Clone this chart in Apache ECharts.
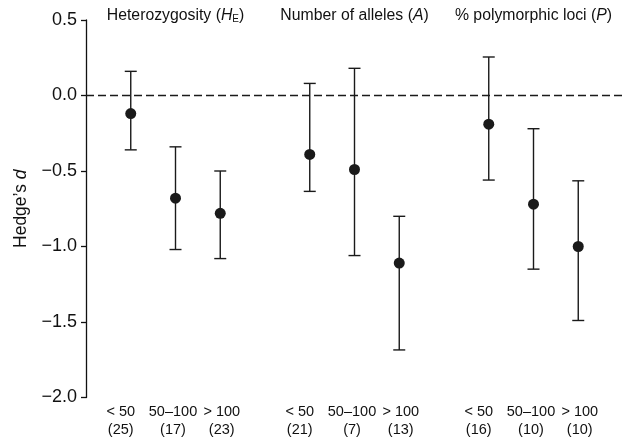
<!DOCTYPE html>
<html>
<head>
<meta charset="utf-8">
<script src="https://cdn.jsdelivr.net/npm/echarts@6/dist/echarts.min.js"></script>
<style>html,body{margin:0;padding:0;background:#fff}#c{width:626px;height:442px}</style>
</head>
<body>
<div id="c"></div>
<script>
// ---- data ----
const groupTitles = ['Heterozygosity', 'Number of alleles', '% polymorphic loci'];
const groupSymbols = ['H', 'A', 'P'];
const groupSubs = ['E', '', ''];
const classLabels = ['< 50', '50–100', '> 100'];
const sampleSizes = [[25, 17, 23], [21, 7, 13], [16, 10, 10]];
const meanD = [[-0.12, -0.68, -0.78], [-0.39, -0.49, -1.11], [-0.19, -0.72, -1.0]];
const upperCI = [[0.16, -0.34, -0.50], [0.08, 0.18, -0.80], [0.255, -0.22, -0.565]];
const lowerCI = [[-0.36, -1.02, -1.08], [-0.635, -1.06, -1.685], [-0.56, -1.15, -1.49]];
const yTicks = [0.5, 0.0, -0.5, -1.0, -1.5, -2.0];

const FONT = '"Liberation Sans", Arial, Helvetica, sans-serif';
const labelStyles = ['c0', 'c1', 'c2'];

// build series data: slot positions 1..11, with an empty slot between groups
const points = [], bars = [], xLabelMap = {}, titleMap = {};
groupTitles.forEach((g, gi) => {
  classLabels.forEach((c, ci) => {
    const x = gi * 4 + ci + 1;
    points.push([x, meanD[gi][ci]]);
    bars.push([x, lowerCI[gi][ci], upperCI[gi][ci]]);
    const st = labelStyles[ci];
    xLabelMap[x] = '{' + st + '|' + c + '}\n{' + st + '|(' + sampleSizes[gi][ci] + ')}';
  });
  const mid = gi * 4 + 2;
  titleMap[mid] = '{n|' + g + ' (}{i|' + groupSymbols[gi] + '}' +
    (groupSubs[gi] ? '{s|' + groupSubs[gi] + '}' : '') + '{n|)}';
});

const lab = {fontFamily: FONT, fontSize: 14.5, color: '#111', lineHeight: 18};
const chart = echarts.init(document.getElementById('c'), null, {renderer: 'canvas'});
chart.setOption({
  animation: false,
  backgroundColor: '#fff',
  grid: {left: 86, right: 0, top: 20, bottom: 44.5, containLabel: false},
  xAxis: [{
    type: 'value', min: 0, max: 12, interval: 1, position: 'bottom',
    axisLine: {show: false}, axisTick: {show: false}, splitLine: {show: false},
    axisLabel: {
      margin: 5, color: '#111', fontFamily: FONT, fontSize: 14.5, lineHeight: 18,
      formatter: v => xLabelMap[v] || '',
      rich: {
        c0: Object.assign({}, lab, {padding: [0, 20, 0, 0]}),
        c1: Object.assign({}, lab, {padding: [0, 5, 0, 0]}),
        c2: Object.assign({}, lab, {padding: [0, 0, 0, 3]})
      }
    }
  }, {
    type: 'value', min: 0, max: 12, interval: 1, position: 'top',
    axisLine: {show: false}, axisTick: {show: false}, splitLine: {show: false},
    axisLabel: {
      margin: -4, color: '#111', fontFamily: FONT, fontSize: 15.8,
      formatter: v => titleMap[v] || '',
      rich: {
        n: {fontFamily: FONT, fontSize: 15.8, color: '#111'},
        i: {fontFamily: FONT, fontSize: 15.8, fontStyle: 'italic', color: '#111'},
        s: {fontFamily: FONT, fontSize: 10, color: '#111', padding: [7, 0, 0, 0]}
      }
    }
  }],
  yAxis: {
    type: 'value', min: -2, max: 0.5, interval: 0.5,
    axisLine: {show: true, lineStyle: {color: '#111', width: 1.3}},
    axisTick: {show: true, length: 5, lineStyle: {color: '#111', width: 1.3}},
    splitLine: {show: false},
    axisLabel: {
      margin: 9, color: '#111', fontFamily: FONT, fontSize: 18,
      formatter: v => yTicks.indexOf(v) >= 0 ? v.toFixed(1).replace('-', '\u2212') : ''
    },
    name: '{n|Hedge\u2019s }{i|d}',
    nameLocation: 'middle', nameGap: 55, nameRotate: 90,
    nameTextStyle: {
      fontFamily: FONT, fontSize: 17.5, color: '#111',
      rich: {
        n: {fontFamily: FONT, fontSize: 17.5, color: '#111'},
        i: {fontFamily: FONT, fontSize: 17.5, fontStyle: 'italic', color: '#111'}
      }
    }
  },
  series: [{
    type: 'custom',
    data: bars,
    renderItem: (params, api) => {
      const x = api.value(0);
      const lo = api.coord([x, api.value(1)]);
      const hi = api.coord([x, api.value(2)]);
      const hw = 6;
      const st = {stroke: '#1a1a1a', lineWidth: 1.4};
      return {type: 'group', children: [
        {type: 'line', shape: {x1: lo[0], y1: lo[1], x2: hi[0], y2: hi[1]}, style: st},
        {type: 'line', shape: {x1: lo[0] - hw, y1: lo[1], x2: lo[0] + hw, y2: lo[1]}, style: st},
        {type: 'line', shape: {x1: hi[0] - hw, y1: hi[1], x2: hi[0] + hw, y2: hi[1]}, style: st}
      ]};
    },
    z: 2
  }, {
    type: 'scatter',
    data: points,
    symbol: 'circle', symbolSize: 11,
    itemStyle: {color: '#1a1a1a', opacity: 1},
    z: 3,
    markLine: {
      silent: true, symbol: 'none', label: {show: false},
      lineStyle: {color: '#1a1a1a', type: [8, 4], width: 1.3},
      data: [{yAxis: 0}]
    }
  }]
});
</script>
</body>
</html>
